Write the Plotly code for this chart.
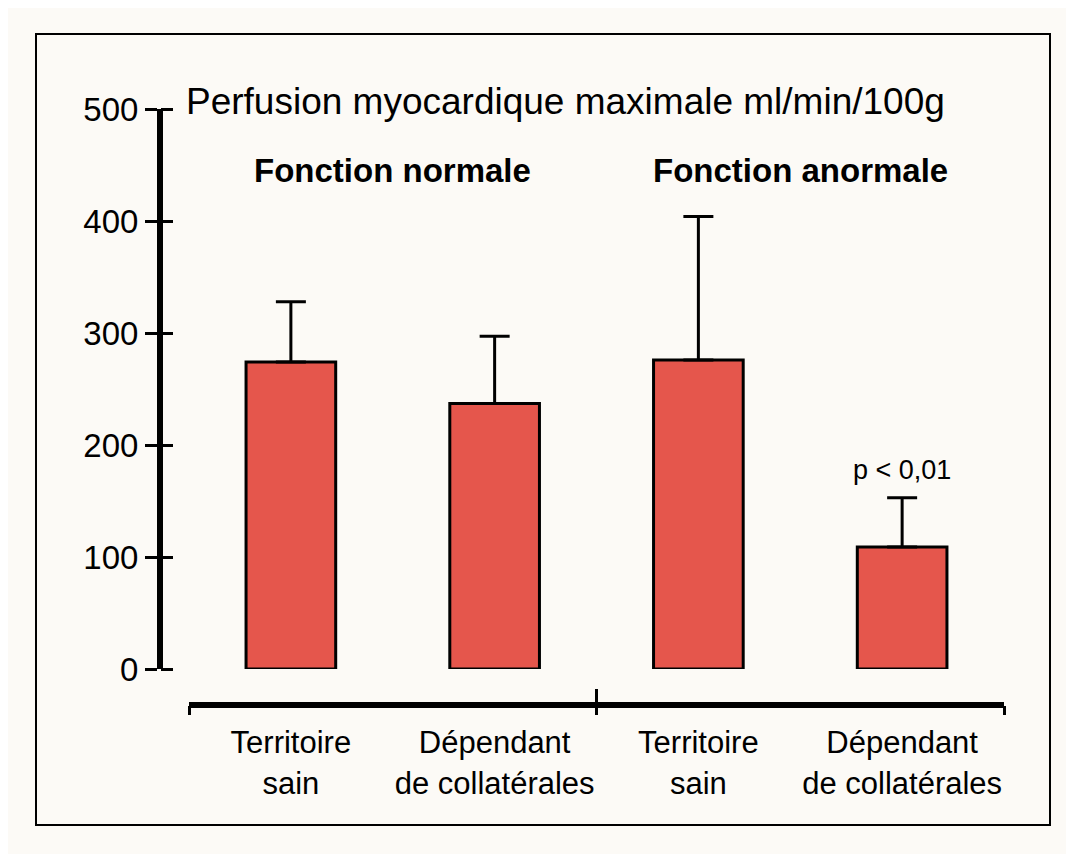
import plotly.graph_objects as go

# Data
groups = ["Fonction normale", "Fonction anormale"]
categories = ["Territoire<br>sain", "Dépendant<br>de collatérales",
              "Territoire<br>sain", "Dépendant<br>de collatérales"]
perfusion = [274, 237, 276, 109]
perfusion_sd = [54, 60, 128, 44]
y_ticks = [0, 100, 200, 300, 400, 500]
title_text = "Perfusion myocardique maximale ml/min/100g"
p_text = "p < 0,01"

# the page adds an 8px body margin, so the figure is drawn a bit smaller
OFF = 8
W, H = 1074 - OFF, 854 - OFF
FONT = "Liberation Sans, Arial, Helvetica, sans-serif"
BAR_COLOR = "#e5564c"
BG = "#fcfaf6"


def fx(px):
    # page pixel -> paper fraction (horizontal)
    return (px - OFF) / W


def fy(py):
    # page pixel -> paper fraction (vertical, from top)
    return 1 - (py - OFF) / H


xpos = list(range(len(perfusion)))
group_sep = [-0.5, 1.5, 3.5]

fig = go.Figure()
fig.add_trace(go.Bar(
    x=xpos, y=perfusion, width=0.44,
    marker=dict(color=BAR_COLOR, line=dict(color="black", width=3)),
    error_y=dict(type="data", symmetric=False, array=perfusion_sd,
                 arrayminus=[0] * len(perfusion),
                 color="black", thickness=3, width=15),
    showlegend=False, hoverinfo="y",
))
# helper traces so the overlaid tick axes are drawn
fig.add_trace(go.Scatter(x=[None], y=[None], xaxis="x2", yaxis="y", showlegend=False, hoverinfo="skip"))
fig.add_trace(go.Scatter(x=[None], y=[None], xaxis="x3", yaxis="y", showlegend=False, hoverinfo="skip"))
fig.add_trace(go.Scatter(x=[None], y=[None], xaxis="x", yaxis="y2", showlegend=False, hoverinfo="skip"))

x_dom = [fx(189), fx(1004)]
y_dom = [fy(669), fy(109)]
x_pos = fy(705)
y_pos = fx(160)

common_x = dict(range=[-0.5, 3.5], domain=x_dom, anchor="free", position=x_pos,
                showgrid=False, zeroline=False, fixedrange=True)
common_y = dict(range=[0, 500], domain=y_dom, anchor="free", position=y_pos,
                showgrid=False, zeroline=False, fixedrange=True)

fig.update_layout(
    width=W, height=H,
    margin=dict(l=0, r=0, t=0, b=0),
    paper_bgcolor=BG, plot_bgcolor="rgba(0,0,0,0)",
    font=dict(family=FONT, color="black"),
    xaxis=dict(**common_x, showline=True, linewidth=6, linecolor="black",
               tickmode="array", tickvals=xpos, ticktext=categories,
               ticks="", ticklabelstandoff=8,
               tickfont=dict(size=31, family=FONT, color="black"), automargin=False),
    xaxis2=dict(**common_x, overlaying="x", showline=False, tickmode="array",
                tickvals=group_sep, ticks="outside", ticklen=9, tickwidth=3,
                tickcolor="black", showticklabels=False),
    xaxis3=dict(**common_x, overlaying="x", showline=False, tickmode="array",
                tickvals=group_sep, ticks="inside", ticklen=16, tickwidth=3,
                tickcolor="black", showticklabels=False),
    yaxis=dict(**common_y, showline=True, linewidth=6, linecolor="black",
               tickmode="array", tickvals=y_ticks, ticks="outside", ticklen=12,
               tickwidth=3, tickcolor="black",
               tickfont=dict(size=33, family=FONT, color="black"), automargin=False),
    # right-hand stubs of the crossing y ticks
    yaxis2=dict(**common_y, overlaying="y", side="right", showline=False, tickmode="array",
                tickvals=y_ticks, ticks="outside", ticklen=12, tickwidth=3,
                tickcolor="black", showticklabels=False),
)

# frame around the figure
fig.add_shape(type="rect", xref="paper", yref="paper",
              x0=fx(36), x1=fx(1050), y0=fy(825), y1=fy(34),
              line=dict(color="black", width=2), fillcolor="rgba(0,0,0,0)", layer="below")

fig.add_annotation(text=title_text, xref="paper", yref="paper",
                   x=fx(184), y=fy(101), xanchor="left", yanchor="middle",
                   showarrow=False, font=dict(size=37, family=FONT, color="black"))

# group headings centred over each pair of bars
for i, g in enumerate(groups):
    fig.add_annotation(text="<b>" + g + "</b>", xref="x", yref="y",
                       x=(xpos[2 * i] + xpos[2 * i + 1]) / 2, y=445,
                       xanchor="center", yanchor="middle", showarrow=False,
                       font=dict(size=33, family=FONT, color="black"))

fig.add_annotation(text=p_text, xref="x", yref="y", x=xpos[3], y=178,
                   xanchor="center", yanchor="middle", showarrow=False,
                   font=dict(size=27, family=FONT, color="black"))

fig.write_html("out.html")
